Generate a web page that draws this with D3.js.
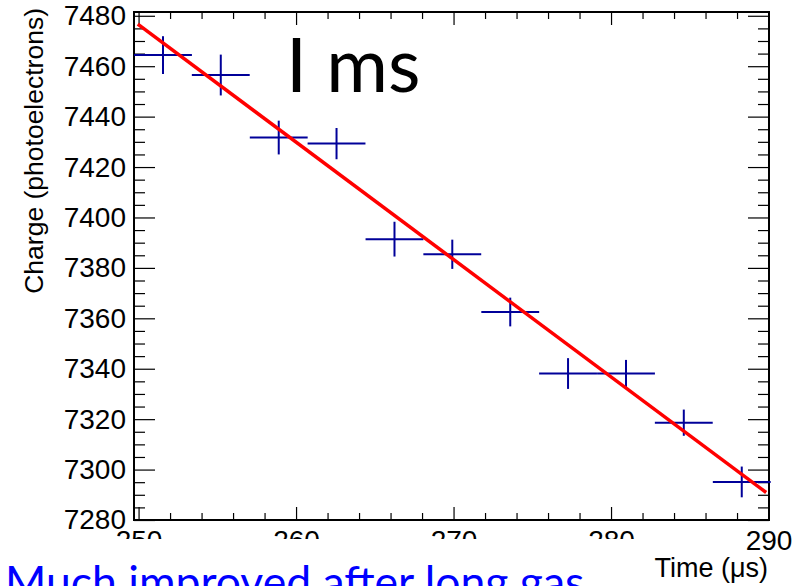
<!DOCTYPE html>
<html>
<head>
<meta charset="utf-8">
<script src="https://cdn.jsdelivr.net/npm/d3@7"></script>
<style>
  html, body { margin: 0; padding: 0; background: #fff; }
  svg { display: block; }
</style>
</head>
<body>
<svg id="chart"></svg>
<script>
/* ── Data ── */
const binCenters = [251.55, 255.22, 258.90, 262.57, 266.25, 269.92, 273.60, 277.27, 280.95, 284.62, 288.30];
const binWidth   = 3.674;
const charge     = [7464.4, 7456.5, 7431.7, 7429.3, 7391.4, 7385.4, 7362.5, 7338.1, 7338.1, 7318.6, 7295.1];
const chargeErr  = [7.5, 8.1, 6.7, 6.2, 6.9, 5.8, 5.7, 6.1, 5.4, 5.2, 6.1];

const fitTime    = [249.95, 289.85];
const fitCharge  = [7476.7, 7290.9];

const xMajor = [250, 260, 270, 280, 290];
const yMajor = [7280, 7300, 7320, 7340, 7360, 7380, 7400, 7420, 7440, 7460, 7480];

const xTitle = 'Time (\u03bcs)';
const yTitle = 'Charge (photoelectrons)';
const lifetimeLabel = 'I ms';
const noteText = 'Much improved after long gas';

/* ── Layout ── */
const W = 800, H = 586;
const frame = { left: 134, right: 769, top: 12, bottom: 520 };
const AXIS_FONT = '"Liberation Sans", Arial, Helvetica, sans-serif';
const ERR_COLOR = '#000099';

const svg = d3.select('#chart')
  .attr('width', W)
  .attr('height', H)
  .attr('viewBox', `0 0 ${W} ${H}`);

const x = d3.scaleLinear().domain([249.71, 290.03]).range([frame.left, frame.right]);
const y = d3.scaleLinear().domain([7280, 7481.5]).range([frame.bottom, frame.top]);

const xMinor = d3.range(250, 290.01, 2).filter(v => !xMajor.includes(v));
const yMinor = d3.range(7280, 7481, 5).filter(v => !yMajor.includes(v));

function styleAxis(ax, withText) {
  ax.select('.domain').remove();
  ax.selectAll('.tick line').attr('stroke', '#000').attr('stroke-width', 1.2);
  if (withText) {
    ax.selectAll('.tick text')
      .attr('fill', '#000')
      .attr('font-size', 28)
      .attr('font-family', AXIS_FONT);
  }
}

/* ── Axes (ticks inward on all four sides) ── */
svg.append('g')
  .attr('transform', `translate(${frame.left},0)`)
  .call(d3.axisLeft(y).tickValues(yMajor).tickSize(-21).tickPadding(8).tickFormat(d3.format('d')))
  .call(ax => styleAxis(ax, true));
svg.append('g')
  .attr('transform', `translate(${frame.left},0)`)
  .call(d3.axisLeft(y).tickValues(yMinor).tickSize(-11).tickFormat(''))
  .call(ax => styleAxis(ax, false));
svg.append('g')
  .attr('transform', `translate(${frame.right},0)`)
  .call(d3.axisRight(y).tickValues(yMajor).tickSize(-21).tickFormat(''))
  .call(ax => styleAxis(ax, false));
svg.append('g')
  .attr('transform', `translate(${frame.right},0)`)
  .call(d3.axisRight(y).tickValues(yMinor).tickSize(-11).tickFormat(''))
  .call(ax => styleAxis(ax, false));

svg.append('g')
  .attr('transform', `translate(0,${frame.bottom})`)
  .call(d3.axisBottom(x).tickValues(xMajor).tickSize(-13).tickPadding(10).tickFormat(d3.format('d')))
  .call(ax => styleAxis(ax, true));
svg.append('g')
  .attr('transform', `translate(0,${frame.bottom})`)
  .call(d3.axisBottom(x).tickValues(xMinor).tickSize(-7).tickFormat(''))
  .call(ax => styleAxis(ax, false));
svg.append('g')
  .attr('transform', `translate(0,${frame.top})`)
  .call(d3.axisTop(x).tickValues(xMajor).tickSize(-13).tickFormat(''))
  .call(ax => styleAxis(ax, false));
svg.append('g')
  .attr('transform', `translate(0,${frame.top})`)
  .call(d3.axisTop(x).tickValues(xMinor).tickSize(-7).tickFormat(''))
  .call(ax => styleAxis(ax, false));

/* ── Frame ── */
svg.append('rect')
  .attr('x', frame.left)
  .attr('y', frame.top)
  .attr('width', frame.right - frame.left)
  .attr('height', frame.bottom - frame.top)
  .attr('fill', 'none')
  .attr('stroke', '#000')
  .attr('stroke-width', 2);

/* ── Data points with error bars ── */
const pts = binCenters.map((t, i) => ({ t, v: charge[i], e: chargeErr[i] }));
const gPts = svg.append('g')
  .attr('stroke', ERR_COLOR)
  .attr('stroke-width', 2);

gPts.selectAll('.xerr')
  .data(pts)
  .join('line')
  .attr('class', 'xerr')
  .attr('x1', d => x(d.t - binWidth / 2))
  .attr('x2', d => x(d.t + binWidth / 2))
  .attr('y1', d => y(d.v))
  .attr('y2', d => y(d.v));

gPts.selectAll('.yerr')
  .data(pts)
  .join('line')
  .attr('class', 'yerr')
  .attr('x1', d => x(d.t))
  .attr('x2', d => x(d.t))
  .attr('y1', d => y(d.v - d.e))
  .attr('y2', d => y(d.v + d.e));

/* ── Fit line ── */
svg.append('path')
  .datum(fitTime.map((t, i) => [t, fitCharge[i]]))
  .attr('fill', 'none')
  .attr('stroke', '#ff0000')
  .attr('stroke-width', 3.5)
  .attr('d', d3.line().x(d => x(d[0])).y(d => y(d[1])));

/* ── Titles ── */
svg.append('text')
  .attr('transform', `translate(43,8) rotate(-90)`)
  .attr('text-anchor', 'end')
  .attr('font-family', AXIS_FONT)
  .attr('font-size', 26.5)
  .attr('fill', '#000')
  .text(yTitle);

svg.append('text')
  .attr('x', 286)
  .attr('y', 92)
  .attr('font-family', 'Lato, "Open Sans", sans-serif')
  .attr('font-size', 75)
  .attr('fill', '#000')
  .text(lifetimeLabel);

/* slide text box covering the lower part of the plot */
svg.append('rect')
  .attr('x', 0)
  .attr('y', 539)
  .attr('width', 639)
  .attr('height', H - 539)
  .attr('fill', '#fff');

svg.append('text')
  .attr('x', 768)
  .attr('y', 577)
  .attr('text-anchor', 'end')
  .attr('font-family', AXIS_FONT)
  .attr('font-size', 27)
  .attr('fill', '#000')
  .text(xTitle);

svg.append('text')
  .attr('x', 5)
  .attr('y', 598)
  .attr('font-family', 'Lato, "Open Sans", sans-serif')
  .attr('font-size', 44.5)
  .attr('fill', '#0000ff')
  .text(noteText);
</script>
</body>
</html>
